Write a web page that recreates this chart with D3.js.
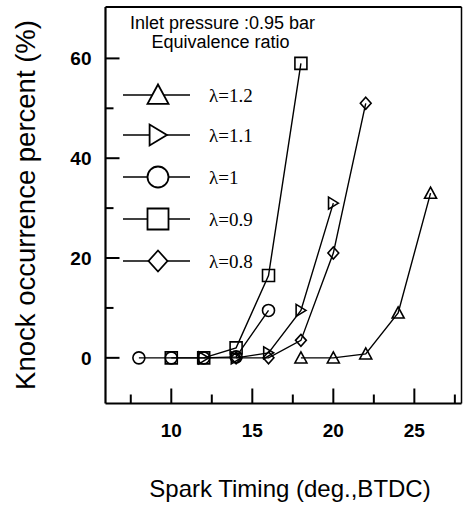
<!DOCTYPE html>
<html><head><meta charset="utf-8">
<script src="https://cdn.jsdelivr.net/npm/d3@7"></script>
<style>body{margin:0;background:#fff}svg{display:block}</style>
</head><body>
<script>
// ---- data ----
const seriesNames = ["λ=1.2", "λ=1.1", "λ=1", "λ=0.9", "λ=0.8"];
const seriesSymbols = ["triUp", "triRight", "circle", "square", "diamond"];
const xTriUp = [18, 20, 22, 24, 26];
const yTriUp = [0, 0, 0.8, 9, 33];
const xTriRight = [12, 14, 16, 18, 20];
const yTriRight = [0, 0, 1, 9.5, 31];
const xCircle = [8, 10, 12, 14, 16];
const yCircle = [0, 0, 0, 0.2, 9.5];
const xSquare = [10, 12, 14, 16, 18];
const ySquare = [0, 0, 2, 16.5, 59];
const xDiamond = [14, 16, 18, 20, 22];
const yDiamond = [0, 0, 3.5, 21, 51];
const xTickLabels = [10, 15, 20, 25];
const yTickLabels = [0, 20, 40, 60];
const xMinorTicks = [7.5, 12.5, 17.5, 22.5, 27.5];
const yMinorTicks = [10, 30, 50];
const titleLines = ["Inlet pressure :0.95 bar", "Equivalence ratio"];
const xTitle = "Spark Timing (deg.,BTDC)";
const yTitle = "Knock occurrence percent (%)";

const seriesX = [xTriUp, xTriRight, xCircle, xSquare, xDiamond];
const seriesY = [yTriUp, yTriRight, yCircle, ySquare, yDiamond];

// ---- layout ----
const W = 469, H = 505;
const L = 105.5, R = 461.5, T = 7, B = 403.5;
const x = d3.scaleLinear().domain([5.94, 27.91]).range([L, R]);
const y = d3.scaleLinear().domain([-9.15, 70.3]).range([B, T]);

const svg = d3.select("body").append("svg").attr("width", W).attr("height", H);

function symbolPath(type, s) {
  const h = s / 2;
  switch (type) {
    case "triUp": return `M0,${-h}L${h},${h*0.85}L${-h},${h*0.85}Z`;
    case "triRight": return `M${h*0.85},0L${-h*0.8},${h}L${-h*0.8},${-h}Z`;
    case "circle": return d3.arc()({innerRadius:0, outerRadius:h, startAngle:0, endAngle:2*Math.PI});
    case "square": return `M${-h},${-h}H${h}V${h}H${-h}Z`;
    case "diamond": return `M0,${-h}L${h*0.9},0L0,${h}L${-h*0.9},0Z`;
  }
}

// frame
const g = svg.append("g");
g.append("line").attr("x1", L).attr("x2", R).attr("y1", T).attr("y2", T).attr("stroke", "#000").attr("stroke-width", 2);
g.append("line").attr("x1", L).attr("x2", R).attr("y1", B).attr("y2", B).attr("stroke", "#000").attr("stroke-width", 2.2);
g.append("line").attr("x1", L).attr("x2", L).attr("y1", T).attr("y2", B).attr("stroke", "#000").attr("stroke-width", 2.2);
g.append("line").attr("x1", R).attr("x2", R).attr("y1", T).attr("y2", B).attr("stroke", "#000").attr("stroke-width", 1.5);

// y ticks (inward)
yTickLabels.forEach(v => {
  g.append("line").attr("x1", L).attr("x2", L + 14).attr("y1", y(v)).attr("y2", y(v)).attr("stroke", "#000").attr("stroke-width", 2);
  g.append("text").attr("x", L - 14).attr("y", y(v)).attr("dy", "0.36em").attr("text-anchor", "end")
    .attr("font-family", "Liberation Sans, Arial, sans-serif").attr("font-weight", "bold").attr("font-size", 19).text(v);
});
yMinorTicks.forEach(v => {
  g.append("line").attr("x1", L).attr("x2", L + 8).attr("y1", y(v)).attr("y2", y(v)).attr("stroke", "#000").attr("stroke-width", 2);
});
// x ticks (inward)
xTickLabels.forEach(v => {
  g.append("line").attr("x1", x(v)).attr("x2", x(v)).attr("y1", B).attr("y2", B - 15).attr("stroke", "#000").attr("stroke-width", 2);
  g.append("text").attr("x", x(v)).attr("y", 437).attr("text-anchor", "middle")
    .attr("font-family", "Liberation Sans, Arial, sans-serif").attr("font-weight", "bold").attr("font-size", 19).text(v);
});
xMinorTicks.forEach(v => {
  g.append("line").attr("x1", x(v)).attr("x2", x(v)).attr("y1", B).attr("y2", B - 9).attr("stroke", "#000").attr("stroke-width", 2);
});

// axis titles
svg.append("text").attr("x", 290).attr("y", 496.5).attr("text-anchor", "middle")
  .attr("font-family", "Liberation Sans, Arial, sans-serif").attr("font-size", 24).text(xTitle);
svg.append("text").attr("transform", "translate(35,205) rotate(-90)").attr("text-anchor", "middle")
  .attr("font-family", "Liberation Sans, Arial, sans-serif").attr("font-size", 27.5).text(yTitle);

// header text
svg.append("text").attr("x", 130).attr("y", 28.5)
  .attr("font-family", "Liberation Sans, Arial, sans-serif").attr("font-size", 18).text(titleLines[0]);
svg.append("text").attr("x", 151.5).attr("y", 48)
  .attr("font-family", "Liberation Sans, Arial, sans-serif").attr("font-size", 18).text(titleLines[1]);

// series lines
const line = d3.line().x(d => x(d[0])).y(d => y(d[1]));
seriesX.forEach((xs, i) => {
  const pts = xs.map((xv, j) => [xv, seriesY[i][j]]);
  svg.append("path").attr("d", line(pts)).attr("fill", "none").attr("stroke", "#000").attr("stroke-width", 1.4);
});
// markers
seriesX.forEach((xs, i) => {
  xs.forEach((xv, j) => {
    svg.append("path").attr("d", symbolPath(seriesSymbols[i], 12))
      .attr("transform", `translate(${x(xv)},${y(seriesY[i][j])})`)
      .attr("fill", "none").attr("stroke", "#000").attr("stroke-width", 1.6);
  });
});

// legend
const legRows = [95, 135, 177, 219, 261];
seriesNames.forEach((name, i) => {
  const ly = legRows[i];
  svg.append("line").attr("x1", 123).attr("x2", 190).attr("y1", ly).attr("y2", ly).attr("stroke", "#000").attr("stroke-width", 1.6);
  svg.append("path").attr("d", symbolPath(seriesSymbols[i], 21)).attr("transform", `translate(158,${ly})`)
    .attr("fill", "#fff").attr("stroke", "#000").attr("stroke-width", 1.8);
  svg.append("text").attr("x", 209).attr("y", ly + 7)
    .attr("font-family", "Liberation Serif, Times New Roman, serif").attr("font-size", 19).text(name);
});
</script>
</body></html>
